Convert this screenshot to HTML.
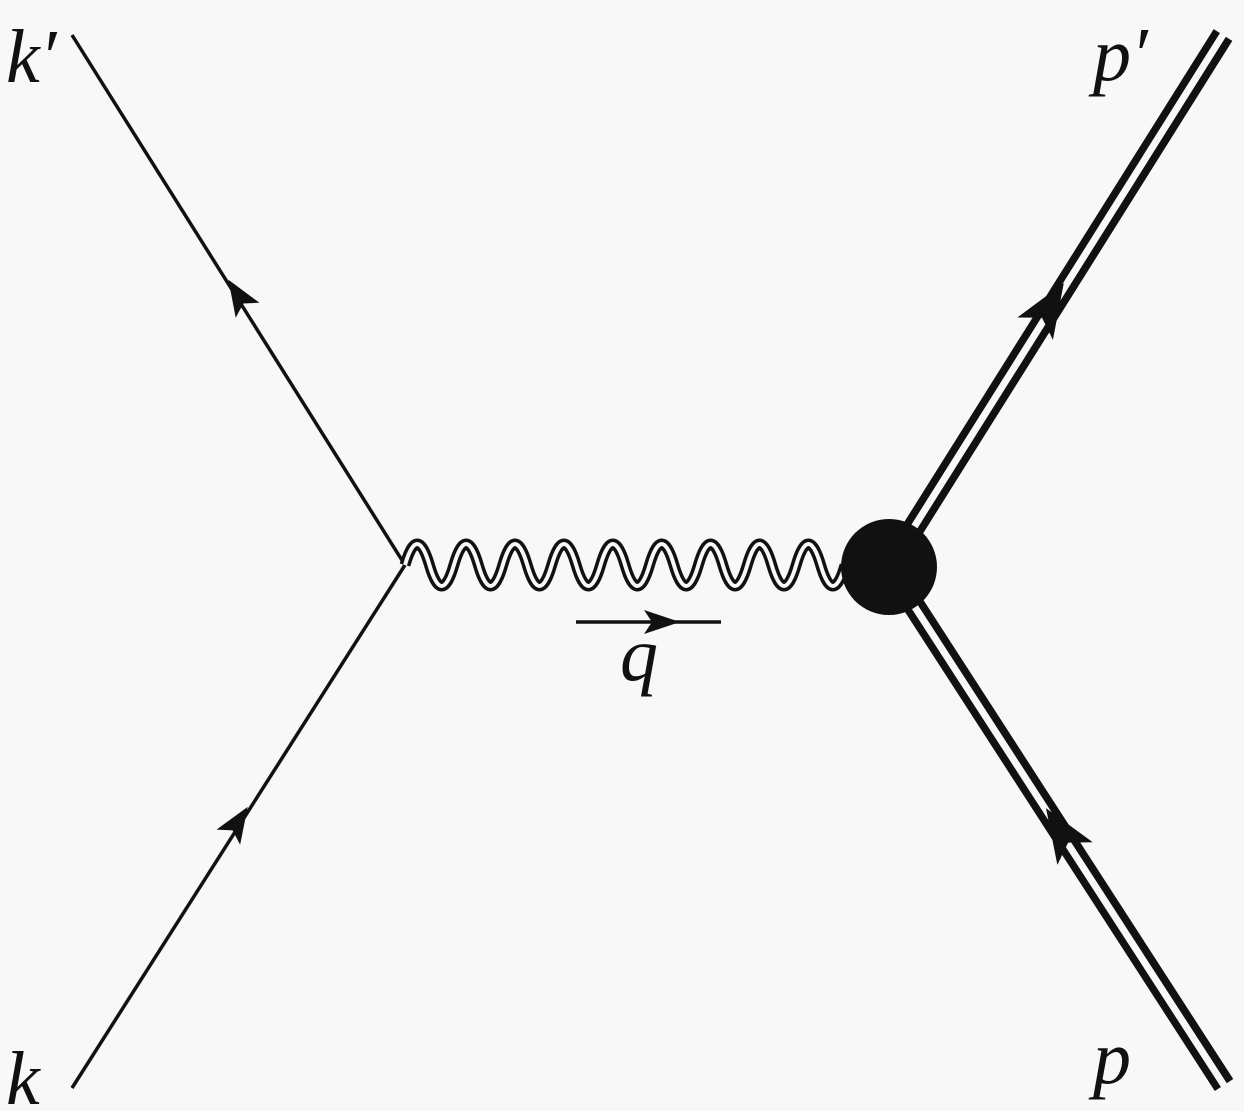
<!DOCTYPE html>
<html><head><meta charset="utf-8"><style>
html,body{margin:0;padding:0;background:#f8f8f8;}
svg{display:block}
text{font-family:"Liberation Serif","DejaVu Serif","Times New Roman",serif;font-style:italic;fill:#111}
</style></head><body>
<svg width="1244" height="1111" viewBox="0 0 1244 1111" xmlns="http://www.w3.org/2000/svg">
<rect width="1244" height="1111" fill="#f8f8f8"/>
<g stroke="#111" stroke-width="3.5" fill="none" stroke-linecap="butt">
<line x1="405" y1="565" x2="72" y2="35"/>
<line x1="405" y1="565" x2="72" y2="1088"/>
</g>
<g fill="#111">
<path d="M18,0 L-18,-14 L-10,0 L-18,14 Z" transform="translate(238,295) rotate(-122.1)"/>
<path d="M18,0 L-18,-14 L-10,0 L-18,14 Z" transform="translate(238,822) rotate(-57.5)"/>
</g>
<path d="M405,565 q12.2,-42 24.45,0 t24.45,0 t24.45,0 t24.45,0 t24.45,0 t24.45,0 t24.45,0 t24.45,0 t24.45,0 t24.45,0 t24.45,0 t24.45,0 t24.45,0 t24.45,0 t24.45,0 t24.45,0 t24.45,0 t24.45,0" fill="none" stroke="#111" stroke-width="11"/>
<path d="M405,565 q12.2,-42 24.45,0 t24.45,0 t24.45,0 t24.45,0 t24.45,0 t24.45,0 t24.45,0 t24.45,0 t24.45,0 t24.45,0 t24.45,0 t24.45,0 t24.45,0 t24.45,0 t24.45,0 t24.45,0 t24.45,0 t24.45,0" fill="none" stroke="#f8f8f8" stroke-width="4"/>
<g fill="none">
<line x1="889" y1="567" x2="1223" y2="35" stroke="#111" stroke-width="22"/>
<line x1="889" y1="567" x2="1226" y2="30" stroke="#f8f8f8" stroke-width="7"/>
<line x1="889" y1="567" x2="1224" y2="1085" stroke="#111" stroke-width="22"/>
<line x1="889" y1="567" x2="1227" y2="1090" stroke="#f8f8f8" stroke-width="7"/>
</g>
<g fill="#111">
<path d="M26,0 L-28,-21 L-15,0 L-28,21 Z" transform="translate(1050,305) rotate(-57.9)"/>
<path d="M26,0 L-28,-21 L-15,0 L-28,21 Z" transform="translate(1060,830) rotate(-122.6)"/>
</g>
<circle cx="889" cy="567" r="48" fill="#111"/>
<line x1="576" y1="622" x2="721" y2="622" stroke="#111" stroke-width="3.5"/>
<path d="M18,0 L-18,-12 L-10,0 L-18,12 Z" transform="translate(662,622)" fill="#111"/>
<text x="620" y="680" font-size="76" font-family="Liberation Serif, DejaVu Serif, serif" font-style="italic">q</text>
<text x="6" y="82" font-size="76" font-family="Liberation Serif, DejaVu Serif, serif" font-style="italic">k′</text>
<text x="1093" y="80" font-size="76" font-family="Liberation Serif, DejaVu Serif, serif" font-style="italic">p′</text>
<text x="6" y="1104" font-size="76" font-family="Liberation Serif, DejaVu Serif, serif" font-style="italic">k</text>
<text x="1093" y="1083" font-size="76" font-family="Liberation Serif, DejaVu Serif, serif" font-style="italic">p</text>
</svg>
</body></html>
